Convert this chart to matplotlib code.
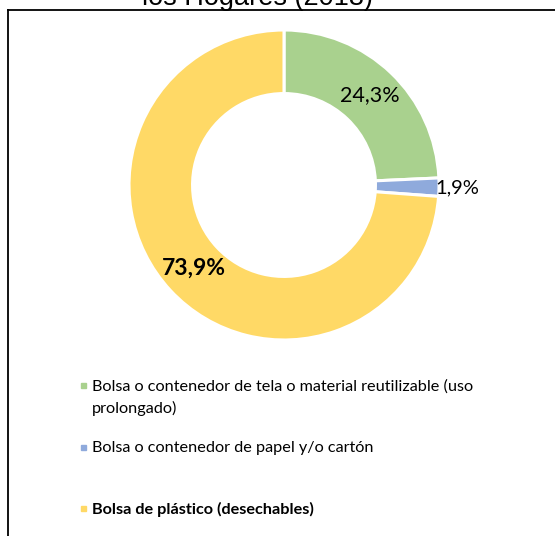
import numpy as np
import matplotlib
matplotlib.use("Agg")
import matplotlib.pyplot as plt
from matplotlib.lines import Line2D
from matplotlib.patches import Rectangle

# datos
categorias = [
    "Bolsa o contenedor de tela o material reutilizable (uso\nprolongado)",
    "Bolsa o contenedor de papel y/o cartón",
    "Bolsa de plástico (desechables)",
]
porcentajes = [24.3, 1.9, 73.9]
etiquetas = ["24,3%", "1,9%", "73,9%"]
colores = ["#A9D18E", "#8FAADC", "#FFD966"]
titulo = "los Hogares (2018)"

W, H = 555, 536
fig = plt.figure(figsize=(W / 100, H / 100), dpi=100)

def fx(px):
    return px / W

def fy(py):
    return 1 - py / H

# anillo
cx, cy, R = 284, 185, 155
ax = fig.add_axes([fx(cx - R), fy(cy + R), 2 * R / W, 2 * R / H])
wedges, _ = ax.pie(porcentajes, colors=colores, startangle=90, counterclock=False,
                   radius=1, wedgeprops=dict(width=0.41, edgecolor="white", linewidth=2.2))
ax.set_xlim(-1, 1)
ax.set_ylim(-1, 1)
ax.set_aspect("equal")
ax.axis("off")

# etiquetas de datos
dist = [0.80, 1.12, 0.79]
pesos = ["normal", "normal", "bold"]
tamanos = [15.5, 14.5, 16.5]
for w, lab, d, pw, fs in zip(wedges, etiquetas, dist, pesos, tamanos):
    ang = np.deg2rad((w.theta1 + w.theta2) / 2)
    ax.text(d * np.cos(ang), d * np.sin(ang), lab, ha="center", va="center",
            fontsize=fs, fontweight=pw, family="Lato", color="black")

# leyenda
filas_y = [385, 447, 508]
for cat, col, y, i in zip(categorias, colores, filas_y, range(3)):
    fig.patches.append(Rectangle((fx(81), fy(y + 2.5)), 5 / W, 5 / H, color=col,
                                 transform=fig.transFigure, figure=fig))
    fig.text(fx(92), fy(y - 6), cat, ha="left", va="top", fontsize=11.7,
             family="Lato", fontweight="bold" if i == 2 else "normal",
             linespacing=1.65, color="black")

# titulo (recortado)
fig.text(fx(257), fy(5), titulo, ha="center", va="baseline", fontsize=19.5,
         family="Liberation Sans", color="black")

# marco
fig.lines.append(Line2D([fx(8), fx(8)], [fy(10), 0], transform=fig.transFigure,
                        color="black", linewidth=1.3))
fig.lines.append(Line2D([fx(8), 1], [fy(10), fy(10)], transform=fig.transFigure,
                        color="black", linewidth=1.3))

fig.savefig("out.png", dpi=100, facecolor="white")
